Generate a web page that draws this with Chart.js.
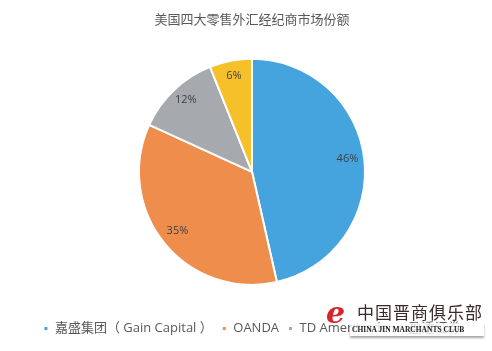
<!DOCTYPE html>
<html lang="zh">
<head>
    <meta charset="UTF-8">
    <title>美国四大零售外汇经纪商市场份额</title>
    <script src="https://cdn.jsdelivr.net/npm/chart.js"></script>
    <style>
        html, body { margin: 0; padding: 0; background: #fff; }
        #wrap { position: relative; width: 492px; height: 351px; }
        #marks {
            position: absolute; left: 322px; top: 297px; width: 165px; height: 44px;
            font-family: "Noto Sans CJK SC", sans-serif; pointer-events: none;
        }
        #marks .logo { position: absolute; left: 4px; top: -2px; font: italic bold 30px "DejaVu Serif", serif; color: #d6262b; }
        #marks .cn { position: absolute; left: 35px; top: 2px; font-size: 17px; color: #3a2a2a; letter-spacing: 1px; }
        #marks .en {
            position: absolute; left: 28px; top: 26px; width: 132px; font: bold 7.5px "Liberation Serif", serif;
            color: #222; background: rgba(255,255,255,0.8); padding: 2px 0 2px 2px;
            box-shadow: 0 2px 2px rgba(0,0,0,0.35);
        }
    </style>
</head>
<body>
<div id="wrap">
    <canvas id="shareChart" width="492" height="351"></canvas>
    <div id="marks">
        <span class="logo">e</span>
        <span class="cn">中国晋商俱乐部</span>
        <span class="en">CHINA JIN MARCHANTS CLUB</span>
    </div>
</div>
<script>
    const brokers = ['嘉盛集团（ Gain Capital ）', 'OANDA', 'TD Ameritrade', '盈透证券'];
    const shares = [46, 35, 12, 6];
    const colors = ['#45a4de', '#ee8d4c', '#a6a9ad', '#f6c02a'];

    // draws the percent text inside each slice
    const sliceLabels = {
        id: 'sliceLabels',
        afterDatasetsDraw(chart) {
            const c = chart.ctx;
            const meta = chart.getDatasetMeta(0);
            c.save();
            c.font = '11px "Open Sans", sans-serif';
            c.fillStyle = '#404040';
            c.textAlign = 'center';
            c.textBaseline = 'middle';
            meta.data.forEach((arc, i) => {
                const p = arc.getProps(['x', 'y', 'startAngle', 'endAngle', 'outerRadius'], true);
                const mid = (p.startAngle + p.endAngle) / 2;
                const r = p.outerRadius * 0.85;
                c.fillText(shares[i] + '%', p.x + Math.cos(mid) * r, p.y + Math.sin(mid) * r - 2);
            });
            c.restore();
        }
    };

    const ctx = document.getElementById('shareChart').getContext('2d');
    new Chart(ctx, {
        type: 'pie',
        data: {
            labels: brokers,
            datasets: [{
                data: shares,
                backgroundColor: colors,
                borderColor: '#ffffff',
                borderWidth: 2,
                radius: 113
            }]
        },
        options: {
            responsive: false,
            animation: false,
            layout: { padding: { left: 12, right: 0, top: 0, bottom: 6 } },
            plugins: {
                title: {
                    display: true,
                    text: '美国四大零售外汇经纪商市场份额',
                    color: '#595959',
                    font: { size: 13, weight: 'normal', family: '"Noto Sans CJK SC", sans-serif' },
                    padding: { top: 11, bottom: 4 }
                },
                legend: {
                    position: 'bottom',
                    labels: {
                        color: '#595959',
                        boxWidth: 5,
                        boxHeight: 5,
                        padding: 9,
                        font: { size: 13, family: '"Open Sans", "Noto Sans CJK SC", sans-serif' }
                    }
                },
                tooltip: { enabled: false }
            }
        },
        plugins: [sliceLabels]
    });
</script>
</body>
</html>
